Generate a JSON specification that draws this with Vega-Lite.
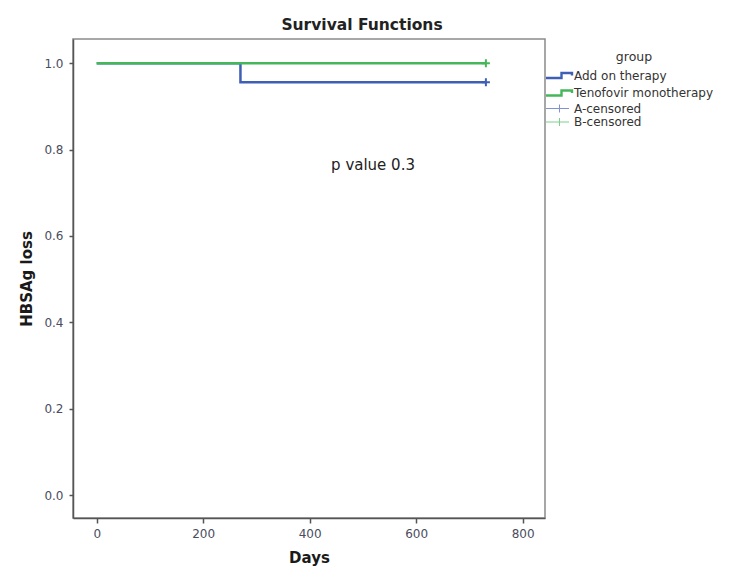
{
  "$schema": "https://vega.github.io/schema/vega-lite/v6.json",
  "width": 472,
  "height": 479,
  "autosize": {"type": "none"},
  "padding": {"left": 73, "top": 39, "right": 184, "bottom": 68},
  "background": "white",
  "title": {
    "text": "Survival Functions",
    "font": "DejaVu Sans",
    "fontSize": 15.5,
    "fontWeight": "bold",
    "color": "#222222",
    "anchor": "middle",
    "dx": 53,
    "dy": 15,
    "offset": 9,
    "baseline": "alphabetic"
  },
  "config": {
    "view": {"stroke": "#8a8a8a", "strokeWidth": 1.5},
    "axis": {
      "labelFont": "DejaVu Sans",
      "labelFontSize": 12,
      "labelColor": "#4a4c60",
      "titleFont": "DejaVu Sans",
      "titleFontSize": 15,
      "titleFontWeight": "bold",
      "titleColor": "#1a1a1a",
      "domainColor": "#555555",
      "domainWidth": 1.5,
      "tickColor": "#555555",
      "tickWidth": 1.5,
      "grid": false
    }
  },
  "datasets": {
    "curves": [
      {"series": "Add on therapy", "days": 0, "surv": 1.0},
      {"series": "Add on therapy", "days": 270, "surv": 0.956},
      {"series": "Add on therapy", "days": 731, "surv": 0.956},
      {"series": "Tenofovir monotherapy", "days": 0, "surv": 1.0},
      {"series": "Tenofovir monotherapy", "days": 731, "surv": 1.0}
    ],
    "censored": [
      {"series": "A-censored", "days": 731, "surv": 0.956},
      {"series": "B-censored", "days": 731, "surv": 1.0}
    ],
    "note": [
      {"label": "p value 0.3", "days": 519, "surv": 0.765}
    ]
  },
  "layer": [
    {
      "data": {"name": "curves"},
      "mark": {"type": "line", "interpolate": "step-after", "strokeWidth": 2.5},
      "encoding": {
        "x": {
          "field": "days", "type": "quantitative",
          "scale": {"domain": [-44.5, 842], "nice": false, "zero": false},
          "axis": {"values": [0, 200, 400, 600, 800], "title": "Days", "tickSize": 5, "labelPadding": 5, "titlePadding": 11}
        },
        "y": {
          "field": "surv", "type": "quantitative",
          "scale": {"domain": [-0.0532, 1.0563], "nice": false, "zero": false},
          "axis": {"values": [0, 0.2, 0.4, 0.6, 0.8, 1.0], "format": ".1f", "title": "HBSAg loss", "tickSize": 4, "labelPadding": 6, "titlePadding": 9}
        },
        "color": {
          "field": "series", "type": "nominal",
          "scale": {
            "domain": ["Add on therapy", "Tenofovir monotherapy", "A-censored", "B-censored"],
            "range": ["#3f5fb6", "#45b65a", "#7f93d4", "#7fcf8c"]
          },
          "legend": {
            "title": "group",
            "orient": "none",
            "legendX": 481,
            "legendY": 12,
            "titleAnchor": "middle",
            "titleFont": "DejaVu Sans",
            "titleFontSize": 12.5,
            "titleFontWeight": "normal",
            "titleColor": "#333333",
            "titlePadding": 6,
            "labelFont": "DejaVu Sans",
            "labelFontSize": 12,
            "labelColor": "#333333",
            "labelOffset": 8,
            "symbolSize": 100,
            "rowPadding": 1.5,
            "padding": 0,
            "encode": {
              "symbols": {
                "update": {
                  "shape": {"signal": "indexof(['A-censored','B-censored'], datum.value) >= 0 ? 'M-2.8,0H1.8M-0.1,-0.8V0.8' : 'M-2.8,0.5H0.3V-0.5H2.4V0'"},
                  "strokeWidth": {"signal": "indexof(['A-censored','B-censored'], datum.value) >= 0 ? 1 : 2.4"},
                  "fill": {"value": "transparent"},
                  "fillOpacity": {"value": 0}
                }
              }
            }
          }
        }
      }
    },
    {
      "data": {"name": "censored"},
      "mark": {"type": "point", "shape": "M-1,0H1M0,-1V1", "size": 64, "strokeWidth": 2, "filled": false, "opacity": 1},
      "encoding": {
        "x": {"field": "days", "type": "quantitative"},
        "y": {"field": "surv", "type": "quantitative"},
        "stroke": {
          "field": "series", "type": "nominal",
          "scale": {"domain": ["A-censored", "B-censored"], "range": ["#3f5fb6", "#45b65a"]},
          "legend": null
        }
      }
    },
    {
      "data": {"name": "note"},
      "mark": {"type": "text", "font": "DejaVu Sans", "fontSize": 15, "color": "#222222", "align": "center", "baseline": "middle"},
      "encoding": {
        "x": {"field": "days", "type": "quantitative"},
        "y": {"field": "surv", "type": "quantitative"},
        "text": {"field": "label"}
      }
    }
  ],
  "resolve": {"scale": {"color": "independent", "stroke": "independent"}}
}
